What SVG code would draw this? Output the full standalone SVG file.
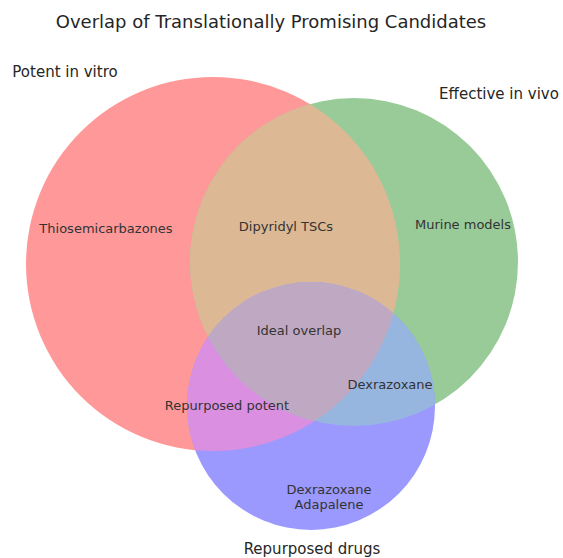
<svg xmlns="http://www.w3.org/2000/svg" width="563" height="558" viewBox="0 0 563 558">
<style>
text{font-family:"DejaVu Sans","Liberation Sans",sans-serif;fill:#333333;text-anchor:middle}
.t{font-size:18px;fill:#262626}
.s{font-size:15px;fill:#262626}
.r{font-size:13px}
</style>
<defs>
<clipPath id="cA"><circle cx="213" cy="264" r="187"/></clipPath>
<clipPath id="cB"><circle cx="354" cy="262" r="164"/></clipPath>
</defs>
<rect width="563" height="558" fill="#ffffff"/>
<text class="t" x="271" y="28">Overlap of Translationally Promising Candidates</text>
<g id="set-potent">
<circle cx="213" cy="264" r="187" fill="#ff9999"/>
</g>
<g id="set-vivo">
<circle cx="354" cy="262" r="164" fill="#99cb99"/>
</g>
<g id="set-drugs">
<circle cx="311" cy="406" r="124" fill="#9b99fd"/>
</g>
<g id="region-AB">
<circle cx="354" cy="262" r="164" fill="#dcb894" clip-path="url(#cA)"/>
</g>
<g id="region-AC">
<circle cx="311" cy="406" r="124" fill="#da8fe0" clip-path="url(#cA)"/>
</g>
<g id="region-BC">
<circle cx="311" cy="406" r="124" fill="#96b6e0" clip-path="url(#cB)"/>
</g>
<g id="region-ABC" clip-path="url(#cB)">
<circle cx="311" cy="406" r="124" fill="#bfa9c2" clip-path="url(#cA)"/>
</g>
<g id="connectors"></g>
<g id="labels">
<text class="s" x="65" y="77">Potent in vitro</text>
<text class="s" x="499" y="99">Effective in vivo</text>
<text class="s" x="312" y="554">Repurposed drugs</text>
<text class="r" x="106" y="233">Thiosemicarbazones</text>
<text class="r" x="286" y="231">Dipyridyl TSCs</text>
<text class="r" x="463" y="229">Murine models</text>
<text class="r" x="299" y="335">Ideal overlap</text>
<text class="r" x="390" y="389">Dexrazoxane</text>
<text class="r" x="227" y="410">Repurposed potent</text>
<text class="r" x="329" y="494">Dexrazoxane</text>
<text class="r" x="329" y="509">Adapalene</text>
</g>
</svg>
